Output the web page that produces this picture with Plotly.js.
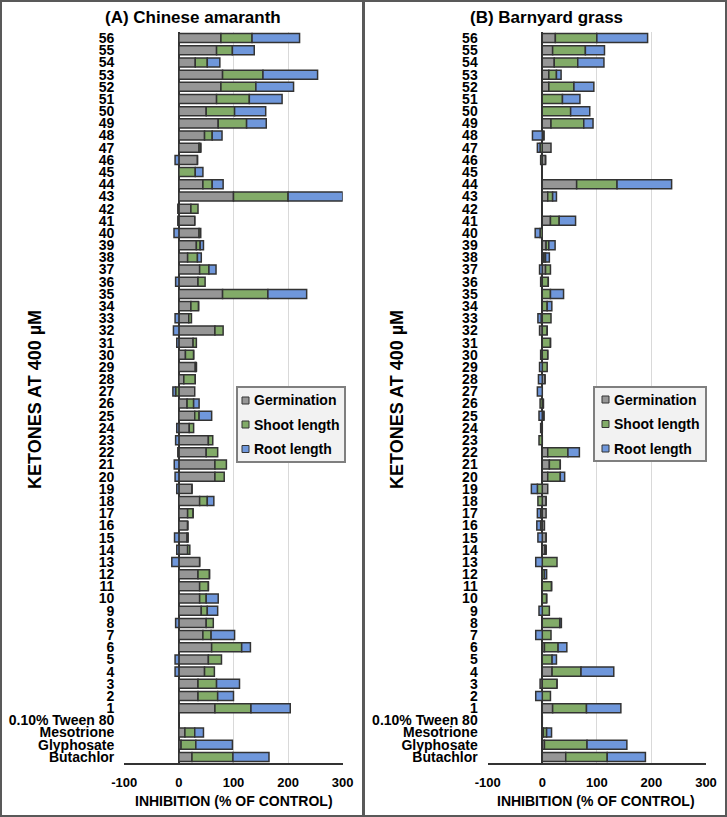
<!DOCTYPE html>
<html>
<head>
<meta charset="utf-8">
<script src="https://cdn.plot.ly/plotly-3.0.1.min.js"></script>
<style>
  html, body { margin: 0; padding: 0; background: #ffffff; }
  #chart { width: 727px; height: 817px; }
</style>
</head>
<body>
<div id="chart"></div>
<script>
// Categories, bottom to top
const categories = ['Butachlor','Glyphosate','Mesotrione','0.10% Tween 80',
  '1','2','3','4','5','6','7','8','9','10',
  '11','12','13','14','15','16','17','18','19','20',
  '21','22','23','24','25','26','27','28','29','30',
  '31','32','33','34','35','36','37','38','39','40',
  '41','42','43','44','45','46','47','48','49','50',
  '51','52','53','54','55','56'];

const seriesNames = ['Germination','Shoot length','Root length'];

// (A) Chinese amaranth
const aGermination = [24,4,11,0, 66,35,35,47,54,60,44,50,41,38,
  38,35,38,16,15,16,16,38,24,66, 66,50,54,19,29,15,29,9,30,12,
  26,66,18,22,80,35,38,16,32,37, 29,22,100,44,0,34,37,47,72,50,
  69,77,80,30,69,77];
const aShoot = [75,27,18,0, 66,36,34,18,24,55,15,13,11,12,
  16,21,0,4,2,0,10,14,0,17, 21,21,8,8,8,12,-6,21,2,15,
  6,15,5,14,83,13,17,18,7,3, 0,13,100,17,30,0,3,14,52,52,
  60,64,74,22,29,57];
const aRoot = [66,67,16,0, 72,29,42,-7,-7,16,43,-6,19,22,
  0,0,-13,-4,-8,0,0,12,-4,-7, -8.5,-2,-6,-4,23,10,-5,0,0,0,
  -4,-10,-7,0,71,-6,13,7,6,-9, -2,-2,100,20,14,-7,0,18,36,57,
  60,69,100,23,40,87];

// (B) Barnyard grass
const bGermination = [43,4,2,0, 19,0,-4,18,0,4,0,0,0,0,
  0,0,0,5,7,4,7,7,10,10, 13,10,0,-3,3,2,0,5,0,-3,
  0,-5,-2,0,0,-3,6,3,7,0, 15,0,10,63,0,6,16,3,16,0,
  0,12,12,22,19,24];
const bShoot = [76,78,6,0, 62,15,27,53,18,25,16,32,13,8,
  17,4,27,2,0,-3,-3,-8,-9,23, 20,37,-6,0,0,-4,0,0,9,10,
  15,9,16,9,15,11,9,3,5,-4, 16,0,9,74,0,-3,-4,0,60,52,
  37,46,14,43,60,76];
const bRoot = [70,73,9,0, 63,-12,0,60,8,16,-12,3,-6,0,
  0,4,-12,0,-8,-7,-6,0,-11,8, 0,21,0,0,-6,0,-9,-7,-5,0,
  0,0,-6,8.5,24,0,-5,7,11.5,-9, 30,0,7,100,0,0,-5,-18,17,35,
  32,36.5,8.5,48,35,93];

const xTickVals = [-100,0,100,200,300];
const panelTitles = ['(A) Chinese amaranth','(B) Barnyard grass'];
const yTitle = 'KETONES AT 400 µM';
const xTitle = 'INHIBITION (% OF CONTROL)';

// ---- styling ----
const W = 727, H = 817;
const px = x => x / W;
const py = y => 1 - y / H;
const colors = ['#969696','#82ab68','#6f97db'];
const edge = '#333333';
const FONT = 'Arial, "Liberation Sans", sans-serif';

function mkTrace(vals, i, xa, ya) {
  return {
    type: 'bar', orientation: 'h',
    x: vals, y: categories,
    name: seriesNames[i],
    xaxis: xa, yaxis: ya,
    marker: {color: colors[i], line: {color: edge, width: 1.5}},
    showlegend: false,
    hoverinfo: 'x+y+name'
  };
}

const data = [
  mkTrace(aGermination,0,'x','y'), mkTrace(aShoot,1,'x','y'), mkTrace(aRoot,2,'x','y'),
  mkTrace(bGermination,0,'x2','y2'), mkTrace(bShoot,1,'x2','y2'), mkTrace(bRoot,2,'x2','y2')
];

const yDomain = [py(763), py(32)];

function xAxis(domain, anchor) {
  return {
    domain: domain, anchor: anchor, range: [-100,300],
    tickvals: xTickVals, ticktext: xTickVals.map(String),
    showgrid: true, gridcolor: '#d9d9d9', gridwidth: 1,
    zeroline: true, zerolinecolor: edge, zerolinewidth: 2,
    showline: true, linecolor: edge, linewidth: 2,
    ticks: '', ticklabelstandoff: 6,
    tickfont: {family: FONT, size: 13, color: '#000', weight: 'bold'},
    fixedrange: true, automargin: false
  };
}
function yAxis(anchor) {
  return {
    domain: yDomain, anchor: anchor, type: 'category',
    categoryorder: 'array', categoryarray: categories,
    range: [-0.5, categories.length - 0.5],
    showgrid: false, zeroline: false, showline: false,
    ticks: '', ticklabelstandoff: 9,
    tickfont: {family: FONT, size: 14, color: '#000', weight: 'bold'},
    fixedrange: true, automargin: false, tickmode: 'array', tickvals: categories
  };
}

const shapes = [
  {type:'rect', xref:'paper', yref:'paper', x0:px(1), x1:px(363), y0:py(816), y1:py(1),
   line:{color:'#595959', width:2}, fillcolor:'rgba(0,0,0,0)', layer:'above'},
  {type:'rect', xref:'paper', yref:'paper', x0:px(364), x1:px(726), y0:py(816), y1:py(1),
   line:{color:'#595959', width:2}, fillcolor:'rgba(0,0,0,0)', layer:'above'}
];
const annotations = [];

function addLegend(box, sqX, txtX, rowsY) {
  shapes.push({type:'rect', xref:'paper', yref:'paper',
    x0:px(box[0]), x1:px(box[1]), y0:py(box[3]), y1:py(box[2]),
    line:{color:'#7f7f7f', width:2}, fillcolor:'#f2f2f2', layer:'above'});
  rowsY.forEach((yy, i) => {
    shapes.push({type:'rect', xref:'paper', yref:'paper',
      x0:px(sqX), x1:px(sqX+7), y0:py(yy+3.5), y1:py(yy-3.5),
      line:{color:edge, width:1}, fillcolor:colors[i], layer:'above'});
    annotations.push({xref:'paper', yref:'paper', x:px(txtX), y:py(yy),
      xanchor:'left', yanchor:'middle', showarrow:false, text:seriesNames[i],
      font:{family:FONT, size:14, color:'#000', weight:'bold'}});
  });
}
addLegend([237,345,387,462], 242, 252, [400.5,424.5,449]);
addLegend([594,706,387,461], 602, 612, [399.5,424,448.5]);

// titles
[[193, panelTitles[0]], [546, panelTitles[1]]].forEach(([x,t]) => {
  annotations.push({xref:'paper', yref:'paper', x:px(x), y:py(17), xanchor:'center', yanchor:'middle',
    showarrow:false, text:t, font:{family:FONT, size:17, color:'#000', weight:'bold'}});
});
[[35],[397]].forEach(([x]) => {
  annotations.push({xref:'paper', yref:'paper', x:px(x), y:py(400), xanchor:'center', yanchor:'middle',
    showarrow:false, textangle:-90, text:yTitle, font:{family:FONT, size:18, color:'#000', weight:'bold'}});
});
[[233.5],[596]].forEach(([x]) => {
  annotations.push({xref:'paper', yref:'paper', x:px(x), y:py(801), xanchor:'center', yanchor:'middle',
    showarrow:false, text:xTitle, font:{family:FONT, size:14, color:'#000', weight:'bold'}});
});

const layout = {
  width: W, height: H,
  margin: {l:0, r:0, t:0, b:0, pad:0},
  paper_bgcolor: '#ffffff', plot_bgcolor: '#ffffff',
  barmode: 'relative', bargap: 0.26,
  showlegend: false,
  font: {family: FONT, color: '#000'},
  xaxis: xAxis([px(124.3), px(342.7)], 'y'),
  yaxis: yAxis('x'),
  xaxis2: xAxis([px(487.7), px(706)], 'y2'),
  yaxis2: yAxis('x2'),
  shapes: shapes,
  annotations: annotations
};

Plotly.newPlot('chart', data, layout, {displayModeBar: false, staticPlot: true});
</script>
</body>
</html>
